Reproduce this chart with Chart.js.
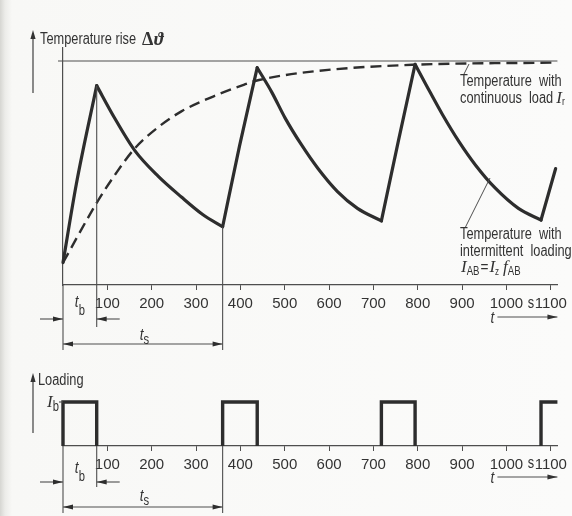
<!DOCTYPE html>
<html>
<head>
<meta charset="utf-8">
<script src="https://cdn.jsdelivr.net/npm/chart.js@4.4.0/dist/chart.umd.min.js"></script>
<style>
  html, body { margin: 0; padding: 0; }
  body {
    width: 572px; height: 516px; position: relative; overflow: hidden;
    background: linear-gradient(to right, #d6d6d2 0px, #ecece9 5px, #f8f8f6 12px, #fbfbfa 100%);
  }
  .box { position: absolute; left: 0; width: 572px; }
</style>
</head>
<body>
<div class="box" style="top:0;height:360px"><canvas id="temp" width="572" height="360"></canvas></div>
<div class="box" style="top:360px;height:156px"><canvas id="load" width="572" height="156"></canvas></div>
<script>
// ---- data (time in s, temperature rise in % of final value) ----
const tickValues = [100, 200, 300, 400, 500, 600, 700, 800, 900, 1000, 1100]
const switchTimes = [0, 76, 360, 438, 718, 794, 1078]   // load on / off
const tb = 76, ts = 360

// temperature with intermittent loading
const intermT = [0, 30, 76, 115, 162, 215, 267, 315, 360, 398, 438, 471, 501, 538, 575, 619, 664, 718, 756, 794, 819, 856, 893, 930, 975, 1027, 1078, 1111]
const intermV = [10, 45, 89, 75, 60, 48.5, 39.3, 31.5, 26, 62, 97, 86, 74.5, 62.5, 52, 41.7, 34.2, 28.6, 64, 98.5, 89.3, 76, 64, 53.6, 43.2, 34.2, 29, 52]

// temperature with continuous load
const contT = [0, 77, 120, 162, 215, 267, 349, 409, 442, 571, 787, 1115]
const contV = [10, 37, 50, 61, 70.5, 77.5, 85, 89.5, 91.5, 95.5, 98.3, 99.3]
const steady = 100

// loading (I_b = 1)
const loadT = [0, 0, 76, 76, 360, 360, 438, 438, 718, 718, 794, 794, 1078, 1078, 1115]
const loadI = [0, 1, 1, 0, 0, 1, 1, 0, 0, 1, 1, 0, 0, 1, 1]

const ink = '#2d2d2d', thin = '#4e4e4e', txt = '#333'
const sans = "'Liberation Sans', Arial, sans-serif"
const serif = "'Liberation Serif', 'DejaVu Serif', serif"
const squeeze = 0.8

// split the intermittent curve at the switching instants (sharp corners)
const intermSets = []
const bounds = switchTimes.concat([intermT[intermT.length - 1]])
for (let i = 0; i < bounds.length - 1; i++) {
  const pts = []
  for (let k = 0; k < intermT.length; k++) {
    if (intermT[k] >= bounds[i] && intermT[k] <= bounds[i + 1]) pts.push({ x: intermT[k], y: intermV[k] })
  }
  intermSets.push({
    data: pts, borderColor: ink, borderWidth: 3.2, cubicInterpolationMode: 'monotone',
    borderCapStyle: 'round', borderJoinStyle: 'round', pointRadius: 0, clip: false
  })
}

// ---- drawing helpers ----
function seg(ctx, x1, y1, x2, y2) {
  ctx.beginPath(); ctx.moveTo(x1, y1); ctx.lineTo(x2, y2); ctx.stroke()
}
function headX(ctx, x, y, dir) {
  ctx.beginPath(); ctx.moveTo(x, y); ctx.lineTo(x - dir * 10, y - 2.6); ctx.lineTo(x - dir * 10, y + 2.6); ctx.closePath(); ctx.fill()
}
function headUp(ctx, x, y) {
  ctx.beginPath(); ctx.moveTo(x, y); ctx.lineTo(x - 2.6, y + 9); ctx.lineTo(x + 2.6, y + 9); ctx.closePath(); ctx.fill()
}
// condensed text (the figure uses a narrow grotesque)
function ntext(ctx, s, x, y, size, style) {
  ctx.save()
  ctx.font = (style ? style + ' ' : '') + size + 'px ' + sans
  ctx.translate(x, y); ctx.scale(squeeze, 1)
  ctx.fillText(s, 0, 0)
  const w = ctx.measureText(s).width * squeeze
  ctx.restore()
  return x + w
}
function symbol(ctx, main, sub, x, y, dy, subSize) {
  ctx.font = 'italic 17px ' + serif; ctx.fillText(main, x, y)
  const w = ctx.measureText(main).width
  return ntext(ctx, sub, x + w, y + dy, subSize || 12)
}
// dimension lines t_b / t_s under an axis
function dims(ctx, X, yb, ys2, labB, labS) {
  const x0 = X(0), xb = X(tb), xs = X(ts)
  seg(ctx, x0 - 23, yb, x0, yb); headX(ctx, x0, yb, 1)
  seg(ctx, xb + 23, yb, xb, yb); headX(ctx, xb, yb, -1)
  seg(ctx, x0, ys2, xs, ys2); headX(ctx, x0, ys2, -1); headX(ctx, xs, ys2, 1)
  ctx.fillStyle = txt; ctx.textBaseline = 'alphabetic'; ctx.textAlign = 'left'
  let x = ntext(ctx, 't', (x0 + xb) / 2 - 5, labB, 17, 'italic')
  ntext(ctx, 'b', x, labB + 8, 14)
  x = ntext(ctx, 't', (x0 + xs) / 2 - 3, labS, 17, 'italic')
  ntext(ctx, 's', x, labS + 4, 14)
}
function timeArrow(ctx, xs, y) {
  ctx.fillStyle = txt; ctx.textBaseline = 'middle'; ctx.textAlign = 'left'
  ntext(ctx, 't', xs.right - 67, y + 1, 17, 'italic')
  seg(ctx, xs.right - 60, y, xs.right, y); headX(ctx, xs.right, y, 1)
  ntext(ctx, 's', xs.getPixelForValue(1055) - 3, y - 13, 16)
}

const tempPlugin = {
  id: 'tempNotes',
  afterDraw(chart) {
    const ctx = chart.ctx, xs = chart.scales.x, ys = chart.scales.y
    const X = v => xs.getPixelForValue(v), Y = v => ys.getPixelForValue(v)
    ctx.save()
    ctx.strokeStyle = thin; ctx.fillStyle = ink; ctx.lineWidth = 1.1
    // final temperature line
    seg(ctx, X(0) - 5, Y(steady), xs.right, Y(steady))
    // guides
    seg(ctx, X(tb), Y(intermV[intermT.indexOf(tb)]), X(tb), ys.bottom + 42)
    seg(ctx, X(ts), Y(intermV[intermT.indexOf(ts)]), X(ts), ys.bottom + 65)
    seg(ctx, X(0), ys.bottom, X(0), ys.bottom + 65)
    dims(ctx, X, ys.bottom + 34, ys.bottom + 59, ys.bottom + 22, ys.bottom + 55)
    timeArrow(ctx, xs, ys.bottom + 32)
    // y axis arrow and title
    ctx.lineWidth = 1.3
    seg(ctx, 33, 93, 33, 34); headUp(ctx, 33, 30)
    ctx.fillStyle = txt; ctx.textBaseline = 'middle'; ctx.textAlign = 'left'
    let x = ntext(ctx, 'Temperature rise', 40, 40, 16)
    ctx.font = 'bold 18px ' + serif
    ctx.fillText('\u0394', x + 6, 40)
    ctx.font = 'bold italic 18px ' + serif
    ctx.fillText('\u03D1', x + 18, 40)
    // curve labels
    ctx.lineWidth = 1
    seg(ctx, 469, 64, 464, 74)
    ntext(ctx, 'Temperature  with', 460, 82, 16)
    x = ntext(ctx, 'continuous  load', 460, 99, 16)
    symbol(ctx, 'I', 'r', x + 3, 99, 3, 11)
    seg(ctx, 490, 178, 465, 228)
    ntext(ctx, 'Temperature  with', 460, 235, 16)
    ntext(ctx, 'intermittent  loading', 460, 252, 16)
    x = symbol(ctx, 'I', 'AB', 461, 268, 4, 12)
    x = ntext(ctx, '=', x + 1, 267, 17)
    x = symbol(ctx, 'I', 'z', x + 1, 268, 4, 10)
    symbol(ctx, 'f', 'AB', x + 4, 268, 4, 12)
    ctx.restore()
  }
}

const loadPlugin = {
  id: 'loadNotes',
  afterDraw(chart) {
    const ctx = chart.ctx, xs = chart.scales.x, ys = chart.scales.y
    const X = v => xs.getPixelForValue(v), Y = v => ys.getPixelForValue(v)
    ctx.save()
    ctx.strokeStyle = thin; ctx.fillStyle = ink; ctx.lineWidth = 1.1
    seg(ctx, X(tb), ys.bottom, X(tb), ys.bottom + 41)
    seg(ctx, X(ts), ys.bottom, X(ts), ys.bottom + 67)
    seg(ctx, X(0), ys.bottom, X(0), ys.bottom + 67)
    seg(ctx, X(0) - 4, Y(1), X(0), Y(1))
    dims(ctx, X, ys.bottom + 36, ys.bottom + 61, ys.bottom + 27, ys.bottom + 55)
    timeArrow(ctx, xs, ys.bottom + 31)
    ctx.lineWidth = 1.3
    seg(ctx, 33, 73, 33, 17); headUp(ctx, 33, 13)
    ctx.fillStyle = txt; ctx.textBaseline = 'middle'; ctx.textAlign = 'left'
    ntext(ctx, 'Loading', 38, 21, 16)
    ctx.textBaseline = 'alphabetic'
    symbol(ctx, 'I', 'b', 47, 47, 4, 14)
    ctx.restore()
  }
}

function xAxis(h) {
  return {
    type: 'linear', min: 0, max: 1115,
    afterBuildTicks: s => { s.ticks = tickValues.map(v => ({ value: v })) },
    afterFit: s => { s.height = h },
    grid: { drawOnChartArea: false, drawTicks: true, tickLength: 5, color: thin, lineWidth: 1 },
    border: { color: thin, width: 1.2 },
    ticks: { color: txt, font: { family: sans, size: 15 }, padding: 5, maxRotation: 0, autoSkip: false, callback: v => String(v) }
  }
}

new Chart(document.getElementById('temp'), {
  type: 'line',
  data: {
    datasets: [
      { data: contT.map((t, i) => ({ x: t, y: contV[i] })), borderColor: ink, borderWidth: 2.4, borderDash: [11, 6],
        cubicInterpolationMode: 'monotone', pointRadius: 0, clip: false }
    ].concat(intermSets)
  },
  options: {
    responsive: false, animation: false,
    layout: { padding: { left: 63, right: 7, top: 48, bottom: 0 } },
    plugins: { legend: { display: false }, tooltip: { enabled: false } },
    scales: {
      x: xAxis(75),
      y: { min: 0, max: 105.8, afterFit: s => { s.width = 0 }, ticks: { display: false },
           grid: { display: false, drawTicks: false }, border: { display: true, color: thin, width: 1.2 } }
    }
  },
  plugins: [tempPlugin]
})

new Chart(document.getElementById('load'), {
  type: 'line',
  data: {
    datasets: [{
      data: loadT.map((t, i) => ({ x: t, y: loadI[i] })), borderColor: ink, borderWidth: 3.4,
      borderJoinStyle: 'miter', pointRadius: 0, clip: false,
      segment: { borderColor: c => (c.p0.parsed.y === 0 && c.p1.parsed.y === 0) ? 'rgba(0,0,0,0)' : ink }
    }]
  },
  options: {
    responsive: false, animation: false,
    layout: { padding: { left: 63, right: 7, top: 42, bottom: 0 } },
    plugins: { legend: { display: false }, tooltip: { enabled: false } },
    scales: {
      x: xAxis(70),
      y: { display: false, min: 0, max: 1 }
    }
  },
  plugins: [loadPlugin]
})
</script>
</body>
</html>
